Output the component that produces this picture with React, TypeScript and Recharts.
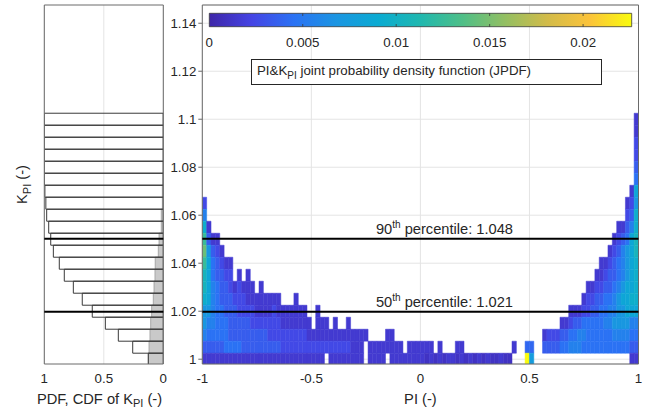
import React from "react";
import { ScatterChart, Scatter, XAxis, YAxis, CartesianGrid, ReferenceArea, ReferenceLine } from "recharts";

// ---------------- data ----------------
const piTicks = [-1, -0.5, 0, 0.5, 1];
const kTicks = [1, 1.02, 1.04, 1.06, 1.08, 1.1, 1.12, 1.14];
const probTicks = [0, 0.5, 1];
const densityTicks = [0, 0.005, 0.01, 0.015, 0.02];
const densityMax = 0.0226;
const kDomain = [0.998, 1.1476];

// K_PI histogram bins (centres) with PDF and CDF
const kBins = [1.0, 1.005, 1.01, 1.015, 1.02, 1.025, 1.03, 1.035, 1.04, 1.045, 1.05, 1.055, 1.06, 1.065, 1.07, 1.075, 1.08, 1.085, 1.09, 1.095, 1.1];
const kBinWidth = 0.005;
const pdfK = [0.126, 0.12, 0.112, 0.106, 0.098, 0.084, 0.078, 0.07, 0.068, 0.042, 0.036, 0.017, 0.017, 0.008, 0.008, 0.005, 0.002, 0.001, 0.001, 0.001, 0.001];
const cdfK = [0.126, 0.257, 0.378, 0.487, 0.597, 0.681, 0.756, 0.832, 0.874, 0.924, 0.946, 0.963, 0.98, 0.987, 0.995, 1, 1, 1, 1, 1, 1];

// percentiles
const percentileNames = ["50", "90"];
const percentileValues = ["1.021", "1.048"];
const percentileLineK = [1.0198, 1.0502];

// JPDF grid: PI bins of width 0.02 from -1 to 1 (100 bins); rows from K = 1.100 (top) to 1.000 (bottom)
// each char = density level in units of 0.0005 (base-36 digit), "*" = peak cell, "." = empty
const piBinStart = -1;
const piBinWidth = 0.02;
const jpdfLevelStep = 0.0005;
const jpdfPeak = 0.0226;
const jpdfRows = [
  ".......... .......... .......... .......... .......... .......... .......... .......... .......... .........3",
  ".......... .......... .......... .......... .......... .......... .......... .......... .......... .........3",
  ".......... .......... .......... .......... .......... .......... .......... .......... .......... .........5",
  ".......... .......... .......... .......... .......... .......... .......... .......... .......... .........5",
  ".......... .......... .......... .......... .......... .......... .......... .......... .......... .........7",
  ".......... .......... .......... .......... .......... .......... .......... .......... .......... .........9",
  ".......... .......... .......... .......... .......... .......... .......... .......... .......... ........3h",
  "5......... .......... .......... .......... .......... .......... .......... .......... .......... .......35e",
  "b......... .......... .......... .......... .......... .......... .......... .......... .......... .......57j",
  "j3........ .......... .......... .......... .......... .......... .......... .......... .......... .....337bj",
  "p733...... .......... .......... .......... .......... .......... .......... .......... .......... ....3579hl",
  "te753..... .......... .......... .......... .......... .......... .......... .......... .......... ...357behl",
  "ph97533... .......... .......... .......... .......... .......... .......... .......... .......... .33579behj",
  "lh97755.3. 3......... .......... .......... .......... .......... .......... .......... .......... 335779behj",
  "lhb9775353 33.3...... .......... .......... .......... .......... .......... .......... ........33 55779behhj",
  "jhb9777555 33333333.. .3........ .......... .......... .......... .......... .......... .......355 7799behhjj",
  "eeb9977755 5533335333 3333..3... .......... .......... .......... .......... .......... ....333557 799bbeehhh",
  "ebb9997777 7555555533 33333.333. 3..3...... .......... .......... .......... .......... ..33577999 99bbeeeebb",
  "b999997777 7777755555 5555333333 33333333.. ..33...... .......... .......... ........35 557799bb99 9999bbbb99",
  "7777799997 7777777755 5555555555 5555333.33 333333.333 333.3...33 .......... .3..88..77 7799bbb999 9999999977",
  "3333333333 3333333333 33333333.3 3333333.33 33.3333333 3232323323 2323232232 2...*f.... .......... ........33",
];

// ---------------- style helpers ----------------
const FONT = '"Liberation Sans", Arial, Helvetica, sans-serif';
const TXT = "#262626";
const BOX = "#6a6a6a";
const GRID = "#e4e4e4";

const parulaStops: [number, string][] = [
  [0, "#3e26a8"], [0.1, "#4544e4"], [0.2, "#2b72f4"], [0.3, "#1b95e2"], [0.4, "#0aabd2"],
  [0.5, "#20b8af"], [0.6, "#4fbf87"], [0.7, "#93bf62"], [0.8, "#d2bb49"], [0.9, "#fbc33a"], [1, "#f9fb0e"],
];
function hexToRgb(h: string) {
  return [parseInt(h.slice(1, 3), 16), parseInt(h.slice(3, 5), 16), parseInt(h.slice(5, 7), 16)];
}
function parula(f: number): string {
  const t = Math.max(0, Math.min(1, f));
  for (let i = 0; i < parulaStops.length - 1; i++) {
    const [p0, c0] = parulaStops[i];
    const [p1, c1] = parulaStops[i + 1];
    if (t <= p1) {
      const u = (t - p0) / (p1 - p0);
      const a = hexToRgb(c0), b = hexToRgb(c1);
      const c = a.map((v, j) => Math.round(v + (b[j] - v) * u));
      return `rgb(${c[0]},${c[1]},${c[2]})`;
    }
  }
  return parulaStops[parulaStops.length - 1][1];
}

type Cell = { x1: number; x2: number; y1: number; y2: number; d: number; x: number; y: number };
const cells: Cell[] = [];
jpdfRows.forEach((row, ri) => {
  const k = kBins[kBins.length - 1 - ri];
  row.replace(/ /g, "").split("").forEach((ch, ci) => {
    if (ch === ".") return;
    const d = ch === "*" ? jpdfPeak : parseInt(ch, 36) * jpdfLevelStep;
    const x1 = piBinStart + ci * piBinWidth;
    cells.push({ x1, x2: x1 + piBinWidth, y1: k - kBinWidth / 2, y2: k + kBinWidth / 2, d, x: x1 + piBinWidth / 2, y: k });
  });
});
const histPoints = kBins.map((k, i) => ({ x: pdfK[i], y: k }));
const cbPoints = densityTicks.map((t) => ({ x: t, y: 0.5 }));

const NoShape = () => <g />;

// ---------------- ticks ----------------
const XTick = (props: any) => {
  const { x, y, payload } = props;
  return (
    <text x={x} y={y} dy="0.71em" textAnchor="middle" fontSize={13.3} fill={TXT} fontFamily={FONT}>
      {String(payload.value)}
    </text>
  );
};
const YTick = (props: any) => {
  const { x, y, payload } = props;
  return (
    <text x={x} y={y} dy="0.36em" textAnchor="end" fontSize={13.3} fill={TXT} fontFamily={FONT}>
      {String(payload.value)}
    </text>
  );
};

const PctLabel = (props: any) => {
  const { viewBox, idx } = props;
  if (!viewBox) return null;
  const x = viewBox.x + viewBox.width * 0.398;
  const y = viewBox.y - 4.5;
  return (
    <text x={x} y={y} fontSize={14.67} fill={TXT} fontFamily={FONT}>
      {percentileNames[idx]}
      <tspan fontSize={10} dy={-6}>th</tspan>
      <tspan dy={6}>{` percentile: ${percentileValues[idx]}`}</tspan>
    </text>
  );
};

// ---------------- panels ----------------
function LeftPanel() {
  return (
    <ScatterChart width={648} height={414} margin={{ top: 5, right: 484.7, bottom: 20, left: 44.3 }}>
      <CartesianGrid stroke={GRID} horizontal={false} />
      <XAxis type="number" dataKey="x" domain={[0, 1]} reversed ticks={probTicks} interval={0} allowDataOverflow
        axisLine={false} tickLine={false} tickSize={4} tickMargin={6} height={30} tick={<XTick />} />
      <YAxis type="number" dataKey="y" domain={kDomain} allowDataOverflow hide />
      <Scatter data={histPoints} shape={<NoShape />} isAnimationActive={false} />
      {kBins.map((k, i) => (
        <ReferenceArea key={`pdf${i}`} x1={0} x2={pdfK[i]} y1={k - kBinWidth / 2} y2={k + kBinWidth / 2}
          fill="#c9c9c9" fillOpacity={1} stroke="#9a9a9a" strokeWidth={0.8} ifOverflow="hidden" />
      ))}
      {kBins.map((k, i) => (
        <ReferenceArea key={`cdf${i}`} x1={0} x2={cdfK[i]} y1={k - kBinWidth / 2} y2={k + kBinWidth / 2}
          fill="none" stroke="#3a3a3a" strokeWidth={1} ifOverflow="hidden" />
      ))}
      {percentileLineK.map((k, i) => (
        <ReferenceLine key={`pl${i}`} y={k} stroke="#000" strokeWidth={2} ifOverflow="visible" />
      ))}
      <ReferenceArea x1={0} x2={1} y1={kDomain[0]} y2={kDomain[1]} fill="none" stroke={BOX} strokeWidth={1} ifOverflow="visible" />
    </ScatterChart>
  );
}

function RightPanel() {
  return (
    <ScatterChart width={648} height={414} margin={{ top: 5, right: 9.5, bottom: 20, left: 162.3 }}>
      <CartesianGrid stroke={GRID} />
      <XAxis type="number" dataKey="x" domain={[-1, 1]} ticks={piTicks} interval={0} allowDataOverflow
        axisLine={false} tickLine={false} tickSize={4} tickMargin={6} height={30} tick={<XTick />} />
      <YAxis type="number" dataKey="y" domain={kDomain} ticks={kTicks} interval={0} allowDataOverflow
        axisLine={false} tickLine={{ stroke: BOX, strokeWidth: 1 }} tickSize={4} tickMargin={2} width={40} tick={<YTick />} />
      <Scatter data={cells} shape={<NoShape />} isAnimationActive={false} />
      {cells.map((c, i) => {
        const col = parula(c.d / densityMax);
        return (
          <ReferenceArea key={`c${i}`} x1={c.x1} x2={c.x2} y1={c.y1} y2={c.y2}
            fill={col} fillOpacity={1} stroke={col} strokeWidth={0.5} ifOverflow="hidden" />
        );
      })}
      {percentileLineK.map((k, i) => (
        <ReferenceLine key={`pr${i}`} y={k} stroke="#000" strokeWidth={2} ifOverflow="visible"
          label={<PctLabel idx={i} />} />
      ))}
      <ReferenceArea x1={-1} x2={1} y1={kDomain[0]} y2={kDomain[1]} fill="none" stroke={BOX} strokeWidth={1} ifOverflow="visible" />
    </ScatterChart>
  );
}

const CbTick = (props: any) => {
  const { x, y, payload } = props;
  return (
    <text x={x} y={y} dy="0.71em" textAnchor="middle" fontSize={13.3} fill={TXT} fontFamily={FONT}>
      {String(payload.value)}
    </text>
  );
};

function ColorBar() {
  return (
    <ScatterChart width={648} height={414} margin={{ top: 13.3, right: 16.3, bottom: 367.3, left: 209.3 }}>
      <defs>
        <linearGradient id="parulaGrad" x1="0" y1="0" x2="1" y2="0">
          {parulaStops.map(([p, c]) => (
            <stop key={p} offset={`${p * 100}%`} stopColor={c} />
          ))}
        </linearGradient>
      </defs>
      <XAxis type="number" dataKey="x" domain={[0, densityMax]} ticks={densityTicks} interval={0} allowDataOverflow
        axisLine={false} tickLine={false} tickSize={4} tickMargin={7} height={20} tick={<CbTick />} />
      <YAxis type="number" dataKey="y" domain={[0, 1]} hide />
      <Scatter data={cbPoints} shape={<NoShape />} isAnimationActive={false} />
      <ReferenceArea x1={0} x2={densityMax} y1={0} y2={1} fill="url(#parulaGrad)" fillOpacity={1}
        stroke="#3a3a3a" strokeWidth={0.8} ifOverflow="visible" />
      {densityTicks.slice(1).map((t) => (
        <ReferenceLine key={`b${t}`} segment={[{ x: t, y: 0 }, { x: t, y: 0.2 }]} stroke="#3a3a3a" strokeWidth={0.8} />
      ))}
      {densityTicks.slice(1).map((t) => (
        <ReferenceLine key={`t${t}`} segment={[{ x: t, y: 0.8 }, { x: t, y: 1 }]} stroke="#3a3a3a" strokeWidth={0.8} />
      ))}
    </ScatterChart>
  );
}

export default function App() {
  return (
    <div style={{ position: "absolute", left: 0, top: 0, width: 648, height: 414, background: "#fff", overflow: "hidden" }}>
      <div style={{ position: "absolute", left: 0, top: 0 }}><LeftPanel /></div>
      <div style={{ position: "absolute", left: 0, top: 0 }}><RightPanel /></div>
      <div style={{ position: "absolute", left: 0, top: 0 }}><ColorBar /></div>
      <div style={{
        position: "absolute", left: 251, top: 59.3, width: 344, height: 24, border: `1px solid ${TXT}`,
        background: "#fff", fontFamily: FONT, fontSize: 13.3, color: TXT, lineHeight: "22px", paddingLeft: 5, boxSizing: "content-box", whiteSpace: "nowrap",
      }}>
        PI&amp;K<span style={{ fontSize: 10, position: "relative", top: 4 }}>PI</span> joint probability density function (JPDF)
      </div>
      <svg width={648} height={414} style={{ position: "absolute", left: 0, top: 0, pointerEvents: "none" }}>
        <text transform="translate(27,184.5) rotate(-90)" textAnchor="middle" fontSize={14.67} fill={TXT} fontFamily={FONT}>
          K<tspan fontSize={11} dy={3.5}>PI</tspan><tspan dy={-3.5}> (-)</tspan>
        </text>
        <text x={99.5} y={403.5} textAnchor="middle" fontSize={14.67} fill={TXT} fontFamily={FONT}>
          PDF, CDF of K<tspan fontSize={11} dy={3.5}>PI</tspan><tspan dy={-3.5}> (-)</tspan>
        </text>
        <text x={420.4} y={403.5} textAnchor="middle" fontSize={14.67} fill={TXT} fontFamily={FONT}>
          PI (-)
        </text>
      </svg>
    </div>
  );
}
